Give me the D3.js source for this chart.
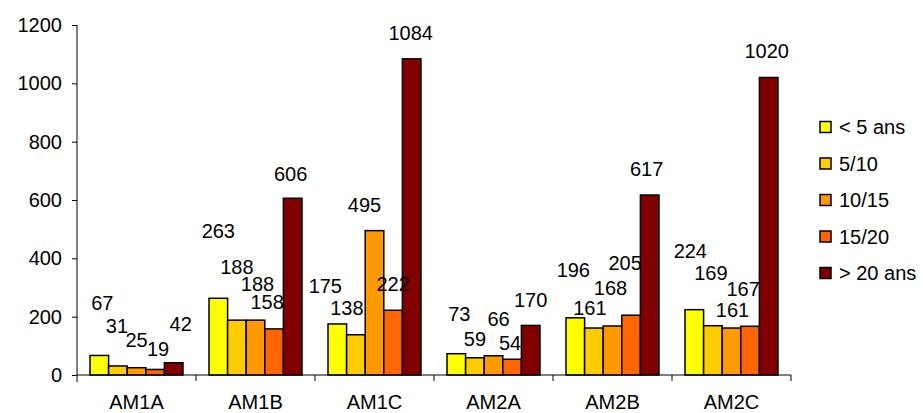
<!DOCTYPE html>
<html>
<head>
<meta charset="utf-8">
<script src="https://cdn.jsdelivr.net/npm/d3@7"></script>
<style>
  html, body { margin: 0; padding: 0; background: #fff; }
  svg { display: block; font-family: "Liberation Sans", Arial, sans-serif; }
</style>
</head>
<body>
<svg id="chart" width="923" height="413"></svg>
<script>
// ---- data ----
const categories = ["AM1A", "AM1B", "AM1C", "AM2A", "AM2B", "AM2C"];
const seriesNames = ["< 5 ans", "5/10", "10/15", "15/20", "> 20 ans"];
const lt5    = [67, 263, 175, 73, 196, 224];
const s5_10  = [31, 188, 138, 59, 161, 169];
const s10_15 = [25, 188, 495, 66, 168, 161];
const s15_20 = [19, 158, 222, 54, 205, 167];
const gt20   = [42, 606, 1084, 170, 617, 1020];
const yTicks = [0, 200, 400, 600, 800, 1000, 1200];

// ---- styles / label layout (as in the original, labels were hand-placed) ----
const colors = ["#FFFF00", "#FFCC00", "#FF9900", "#FF6600", "#800000"];
const labelLift = [   // px from bar top up to label centre, per series / category
  [52, 67, 38, 40, 48, 59],
  [40, 53, 27, 19, 20, 53],
  [28, 36, 26, 37, 38, 18],
  [20, 27, 26, 16, 52, 37],
  [39, 24, 26, 25, 26, 27]
];
const labelShift = [  // px horizontal nudge from bar centre
  [3, 0, -12, 3, -2, -4],
  [-1, 0, -9, 0, -4, -2],
  [0, 2, -10, 5, -2, 1],
  [3, -7, 0, -2, -6, -7],
  [7, -2, -1, 0, -3, -2]
];
const fontSize = 20;

const seriesValues = [lt5, s5_10, s10_15, s15_20, gt20];
const svg = d3.select("#chart");

const x0 = d3.scaleBand().domain(categories).range([77, 791]).paddingInner(0).paddingOuter(0);
const x1 = d3.scaleBand().domain(d3.range(seriesNames.length)).range([0, x0.bandwidth()])
  .paddingInner(0).paddingOuter(0.7);
const y = d3.scaleLinear().domain([0, 1200]).range([375, 25]);

// y axis
const yAxis = svg.append("g").attr("transform", "translate(77,0)")
  .call(d3.axisLeft(y).tickValues(yTicks).tickFormat(d3.format("d"))
    .tickSize(5).tickPadding(10).tickSizeOuter(0));
yAxis.select(".domain").remove();
yAxis.selectAll("line").attr("stroke", "#000");
yAxis.selectAll("text").attr("font-size", fontSize)
  .attr("font-family", "Liberation Sans, Arial, sans-serif").attr("fill", "#000");

// bars
const data = [];
categories.forEach((c, ci) => {
  seriesValues.forEach((arr, si) => data.push({ c, ci, si, v: arr[ci] }));
});

svg.append("g").selectAll("rect").data(data).join("rect")
  .attr("x", d => x0(d.c) + x1(d.si))
  .attr("y", d => y(d.v))
  .attr("width", x1.bandwidth())
  .attr("height", d => y(0) - y(d.v))
  .attr("fill", d => colors[d.si])
  .attr("stroke", "#000")
  .attr("stroke-width", 1.5);

// axis lines
svg.append("line").attr("x1", 77).attr("x2", 77).attr("y1", y(1200)).attr("y2", y(0) + 7)
  .attr("stroke", "#000").attr("stroke-width", 1);
svg.append("line").attr("x1", 77).attr("x2", 791).attr("y1", y(0)).attr("y2", y(0))
  .attr("stroke", "#000").attr("stroke-width", 1);

// x ticks at category boundaries
const bounds = categories.map(c => x0(c) + x0.bandwidth());
svg.append("g").selectAll("line").data(bounds).join("line")
  .attr("x1", d => d).attr("x2", d => d).attr("y1", y(0)).attr("y2", y(0) + 6)
  .attr("stroke", "#000");

// category labels
svg.append("g").selectAll("text").data(categories).join("text")
  .attr("x", c => x0(c) + x0.bandwidth() / 2)
  .attr("y", 409)
  .attr("text-anchor", "middle")
  .attr("font-size", fontSize)
  .text(c => c);

// value labels
svg.append("g").selectAll("text").data(data).join("text")
  .attr("x", d => x0(d.c) + x1(d.si) + x1.bandwidth() / 2 + labelShift[d.si][d.ci])
  .attr("y", d => y(d.v) - labelLift[d.si][d.ci] + 7)
  .attr("text-anchor", "middle")
  .attr("font-size", fontSize)
  .text(d => d.v);

// legend
const legend = svg.append("g").selectAll("g").data(seriesNames).join("g")
  .attr("transform", (d, i) => `translate(820, ${127 + i * 36.5})`);
legend.append("rect").attr("x", 0).attr("y", -5.5).attr("width", 11).attr("height", 11)
  .attr("fill", (d, i) => colors[i]).attr("stroke", "#000").attr("stroke-width", 1.5);
legend.append("text").attr("x", 19).attr("y", 7).attr("font-size", fontSize).text(d => d);
</script>
</body>
</html>
